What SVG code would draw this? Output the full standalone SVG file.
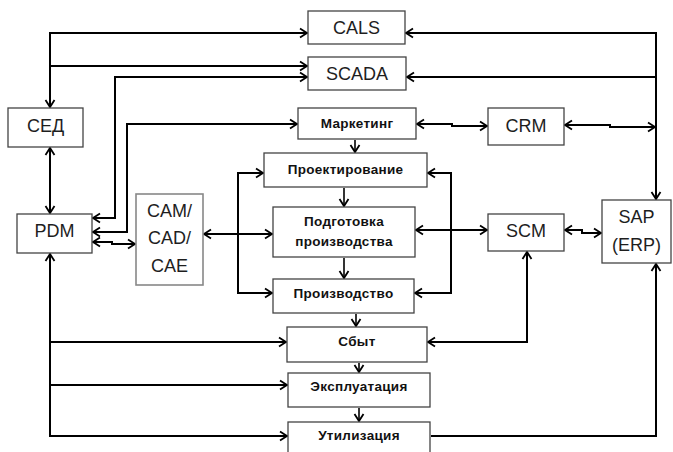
<svg xmlns="http://www.w3.org/2000/svg" width="673" height="452" viewBox="0 0 673 452">
<style>
.b{fill:#fff;stroke:#444;stroke-width:1.3}
.g{fill:#fff;stroke:#888;stroke-width:1.6}
.t{font-family:"Liberation Sans",Arial,sans-serif;font-size:18px;fill:#1e1e1e;text-anchor:middle}
.r{font-family:"Liberation Sans",Arial,sans-serif;font-size:13.5px;font-weight:bold;letter-spacing:0.3px;fill:#111;text-anchor:middle}
.c path{fill:none;stroke:#000;stroke-width:2;marker-end:url(#a)}
.c path.d{marker-start:url(#a)}
.c path.n{marker-end:none}
.c path.s{stroke-width:1.6}
</style>
<defs>
<marker id="a" markerUnits="userSpaceOnUse" markerWidth="12" markerHeight="12" refX="8" refY="5" orient="auto-start-reverse" overflow="visible">
<path d="M1,0.5 L8,5 L1,9.5" fill="none" stroke="#000" stroke-width="1.8"/>
</marker>
</defs>
<rect width="673" height="452" fill="#fff"/>
<g class="c" id="connectors">
<path class="d" d="M307,33 H50 V107"/>
<path d="M50,66 H307"/>
<path class="d" d="M307,77 H115 V218 H93"/>
<path class="d" d="M297,124 H127 V232 H93"/>
<path class="d" d="M50,148 V213"/>
<path class="d" d="M93,242 H112 V244 H135"/>
<path class="d" d="M204,234 H272"/>
<path class="d" d="M263,173 H238 V293 H272"/>
<path class="d" d="M428,173 H451 V293 H415"/>
<path class="d" d="M416,230 H487"/>
<path class="d" d="M417,124 H452 V126 H487"/>
<path class="d" d="M565,125 H610 V127 H655"/>
<path class="d" d="M406,33 H656 V199"/>
<path class="d n" d="M407,77 H656"/>
<path class="d" d="M565,230 H582 V233 H601"/>
<path class="d" d="M527,252 V342 H428"/>
<path class="d" d="M50,254 V436 H287"/>
<path d="M50,342 H286"/>
<path d="M50,385 H287"/>
<path d="M431,436 H656 V264"/>
<path class="s" d="M355,140 V152"/>
<path class="s" d="M344,188 V206"/>
<path class="s" d="M344,258 V278"/>
<path class="s" d="M356,314 V326"/>
<path class="s" d="M359,363 V372"/>
<path class="s" d="M359,408 V421"/>
</g>
<g id="cals"><rect class="b" x="308" y="11" width="97" height="33"/><text class="t" x="356.5" y="34">CALS</text></g>
<g id="scada"><rect class="b" x="308" y="57" width="98" height="33"/><text class="t" x="357" y="80">SCADA</text></g>
<g id="sed"><rect class="b" x="8" y="108" width="75" height="39"/><text class="t" x="45.5" y="132">СЕД</text></g>
<g id="pdm"><rect class="b" x="17" y="214" width="75" height="39"/><text class="t" x="54.5" y="237">PDM</text></g>
<g id="cam"><rect class="g" x="136" y="194" width="67" height="91"/><text class="t" x="169.5" y="217">CAM/</text><text class="t" x="169.5" y="244">CAD/</text><text class="t" x="169.5" y="272">CAE</text></g>
<g id="marketing"><rect class="b" x="298" y="108" width="118" height="31"/><text class="r" x="357" y="128">Маркетинг</text></g>
<g id="design"><rect class="b" x="264" y="153" width="163" height="34"/><text class="r" x="345.5" y="174">Проектирование</text></g>
<g id="prep"><rect class="b" x="273" y="207" width="142" height="50"/><text class="r" x="344" y="226">Подготовка</text><text class="r" x="344" y="246">производства</text></g>
<g id="production"><rect class="b" x="273" y="279" width="141" height="34"/><text class="r" x="343.5" y="298">Производство</text></g>
<g id="sales"><rect class="b" x="287" y="327" width="140" height="35"/><text class="r" x="357" y="346">Сбыт</text></g>
<g id="operation"><rect class="b" x="288" y="373" width="142" height="34"/><text class="r" x="359" y="391">Эксплуатация</text></g>
<g id="disposal"><rect class="b" x="288" y="422" width="142" height="34"/><text class="r" x="359" y="440">Утилизация</text></g>
<g id="crm"><rect class="b" x="488" y="108" width="76" height="37"/><text class="t" x="526" y="132">CRM</text></g>
<g id="scm"><rect class="b" x="488" y="214" width="76" height="37"/><text class="t" x="526" y="237">SCM</text></g>
<g id="sap"><rect class="b" x="602" y="200" width="69" height="63"/><text class="t" x="636.5" y="223">SAP</text><text class="t" x="636.5" y="251">(ERP)</text></g>
</svg>
